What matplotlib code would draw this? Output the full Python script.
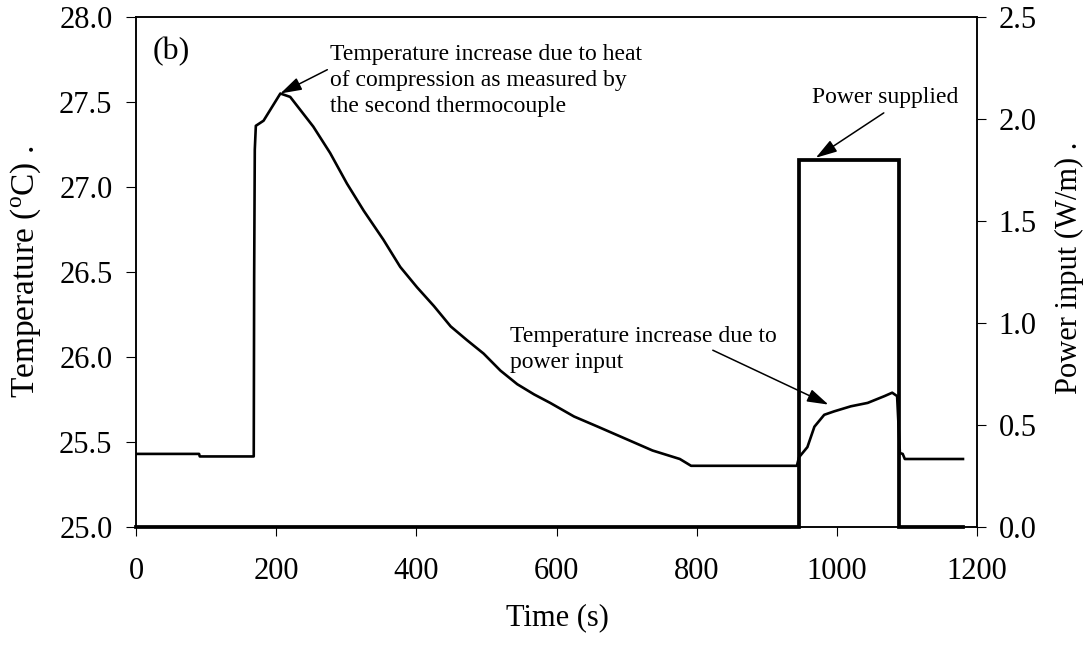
import numpy as np
import matplotlib
matplotlib.use("Agg")
import matplotlib.pyplot as plt

plt.rcParams["font.family"] = "Liberation Serif"
plt.rcParams["mathtext.fontset"] = "custom"
plt.rcParams["mathtext.rm"] = "Liberation Serif"
plt.rcParams["mathtext.it"] = "Liberation Serif:italic"

# temperature trace (second thermocouple)
time_s = [0, 90, 91, 168, 168.6, 169.5, 171, 182, 191, 206, 220, 253, 277,
          301, 325, 353, 377, 401, 425, 449, 472, 496, 520, 544, 568, 591,
          625, 659, 698, 737, 776, 792, 860, 943, 946, 958, 968, 982, 996,
          1020, 1044, 1068, 1079, 1086, 1088, 1090, 1094, 1097, 1180]
temp_c = [25.43, 25.43, 25.415, 25.415, 26.47, 27.22, 27.36, 27.39, 27.45,
          27.55, 27.53, 27.355, 27.20, 27.02, 26.86, 26.69, 26.53, 26.41,
          26.30, 26.18, 26.10, 26.02, 25.92, 25.84, 25.78, 25.73, 25.65,
          25.59, 25.52, 25.45, 25.40, 25.36, 25.36, 25.36, 25.41, 25.47,
          25.59, 25.66, 25.68, 25.71, 25.73, 25.77, 25.79, 25.77, 25.60,
          25.435, 25.43, 25.40, 25.40]

# heater power pulse
power_time = [0, 946, 946, 1088, 1088, 1180]
power_wm = [0, 0, 1.8, 1.8, 0, 0]

x_ticks = [0, 200, 400, 600, 800, 1000, 1200]
t_ticks = [25.0, 25.5, 26.0, 26.5, 27.0, 27.5, 28.0]
p_ticks = [0.0, 0.5, 1.0, 1.5, 2.0, 2.5]

W, H = 1086, 645
fig = plt.figure(figsize=(W / 100, H / 100), dpi=100)
ax = fig.add_axes([136 / W, 1 - 527 / H, (977 - 136) / W, (527 - 17) / H])
ax2 = ax.twinx()

ax.plot(time_s, temp_c, color="black", lw=1.9, zorder=3)
ax2.plot(power_time, power_wm, color="black", lw=2.7, clip_on=False,
         solid_joinstyle="miter", zorder=4)

ax.set_xlim(0, 1200)
ax.set_ylim(25.0, 28.0)
ax2.set_ylim(0, 2.5)
ax.set_xticks(x_ticks)
ax.set_yticks(t_ticks)
ax2.set_yticks(p_ticks)
ax.set_xticklabels([str(v) for v in x_ticks])
ax.set_yticklabels([f"{v:.1f}" for v in t_ticks])
ax2.set_yticklabels([f"{v:.1f}" for v in p_ticks])

ax.tick_params(axis="x", direction="out", length=6.5, width=0.8, pad=15,
               labelsize=22)
ax.tick_params(axis="y", direction="out", length=7, width=0.8, pad=10,
               labelsize=22)
ax2.tick_params(axis="y", direction="out", length=6.5, width=0.8, pad=9,
                labelsize=22)
for a in (ax, ax2):
    for sp in a.spines.values():
        sp.set_linewidth(1.1)

fig.text(26 / W, 1 - 272 / H, "Temperature ($^{\\rm o}$C) .", rotation=90,
         ha="center", va="center", fontsize=24)
fig.text(1069 / W, 1 - 268 / H, "Power input (W/m) .", rotation=90,
         ha="center", va="center", fontsize=22)
fig.text(557 / W, 1 - 618 / H, "Time (s)", ha="center", va="center",
         fontsize=22)

ax.text(24, 27.885, "(b)", ha="left", va="top", fontsize=23)

arrow = dict(arrowstyle="-|>,head_length=1.3,head_width=0.4", color="black",
             lw=1.1, shrinkA=0, shrinkB=0)

ax.text(277, 27.84, "Temperature increase due to heat\n"
        "of compression as measured by\nthe second thermocouple",
        ha="left", va="top", fontsize=17, linespacing=1.3)
ax.annotate("", xy=(206, 27.55), xytext=(273, 27.69), arrowprops=arrow)

ax.text(534, 26.18, "Temperature increase due to\npower input",
        ha="left", va="top", fontsize=17, linespacing=1.3)
ax.annotate("", xy=(988, 25.72), xytext=(823, 26.04), arrowprops=arrow)

ax2.text(1069, 2.078, "Power supplied", ha="center", va="baseline",
         fontsize=17)
ax2.annotate("", xy=(970, 1.81), xytext=(1067, 2.03), arrowprops=arrow)

fig.savefig("out.png", dpi=100)
